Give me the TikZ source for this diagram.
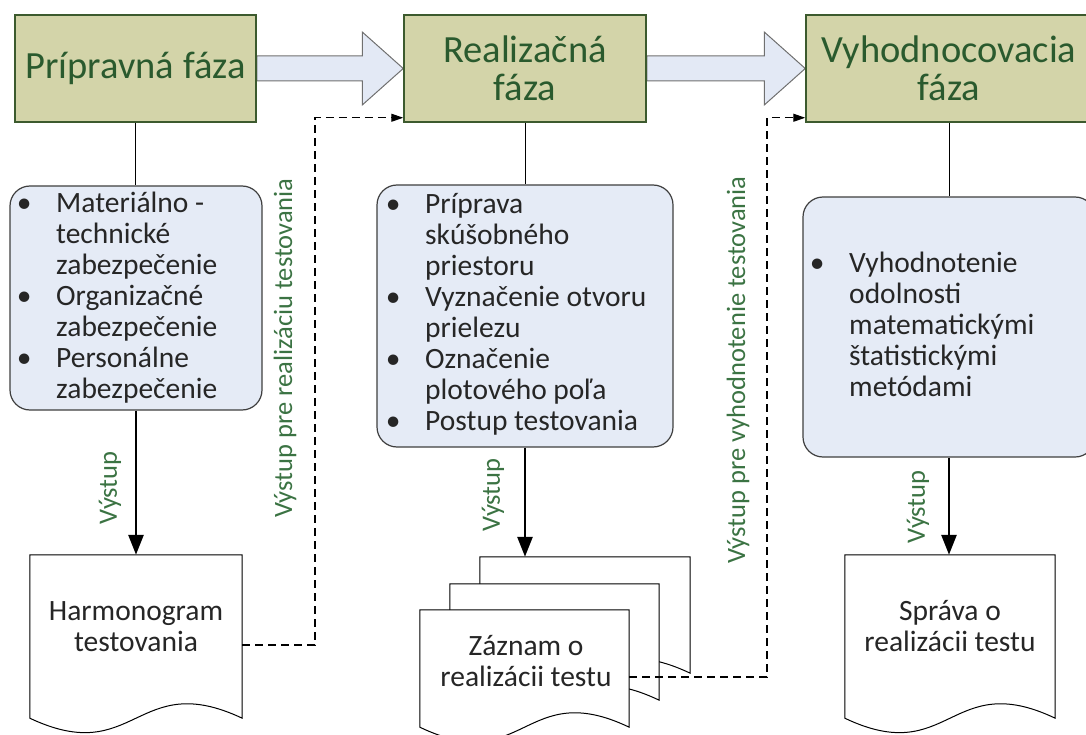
\documentclass[tikz,border=0pt]{standalone}
\usepackage{fontspec}
\setmainfont{Carlito}
\usetikzlibrary{arrows.meta,calc,backgrounds}
\definecolor{phasefill}{HTML}{D3D4A9}
\definecolor{phasedraw}{HTML}{3C5A2E}
\definecolor{phasetext}{HTML}{2A5A2E}
\definecolor{lblcol}{HTML}{3B7343}
\definecolor{bulfill}{HTML}{E5EBF6}
\definecolor{buldraw}{HTML}{3F3F3F}
\definecolor{arrowfill}{HTML}{E3E9F5}
\definecolor{arrowdraw}{HTML}{707070}
\definecolor{txtcol}{HTML}{262626}
\newcommand\lstr{\rule[-8pt]{0pt}{31pt}}
\newcommand\bl[1]{\makebox[0pt]{\textbullet}\hspace*{32pt}#1\lstr}
\newcommand\cl[1]{\hspace*{32pt}#1\lstr}
\begin{document}
\begin{tikzpicture}[x=1pt,y=-1pt,
 phase/.style={draw=phasedraw, line width=1.5pt, fill=phasefill, text=phasetext, font=\fontsize{38.5}{38}\selectfont, align=center, inner sep=0pt},
 bulbox/.style={draw=buldraw, line width=1.2pt, fill=bulfill, rounded corners=20pt, inner sep=0pt},
 bultext/.style={anchor=north west, align=left, inner sep=0pt, text=txtcol, font=\fontsize{29.5}{31}\selectfont},
 docarea/.style={inner sep=0pt},
 docshape/.style={draw=black, line width=1pt, fill=white},
 doctext/.style={align=center, inner sep=0pt, text=txtcol, font=\fontsize{29.5}{31}\selectfont},
 outlbl/.style={rotate=90, text=lblcol, font=\fontsize{26.5}{30}\selectfont, inner sep=0pt},
 link/.style={draw=black, line width=1pt},
 outarrow/.style={draw=black, line width=2.8pt, -{Triangle[length=20pt,width=15pt]}},
 dashconn/.style={draw=black, line width=1.2pt, dash pattern=on 8pt off 5pt, -{Triangle[length=12pt,width=8pt]}},
 barrow/.style={draw=arrowdraw, line width=1pt, fill=arrowfill}
]
\useasboundingbox (0,0) rectangle (1086,735);

% phase boxes
\node[phase, minimum width=241pt, minimum height=107pt] (p1) at (135.5,68.5) {Prípravná fáza};
\node[phase, minimum width=242pt, minimum height=107pt] (p2) at (525,68.5) {Realizačná\\fáza};
\node[phase, minimum width=286pt, minimum height=107pt] (p3) at (949,68.5) {Vyhodnocovacia\\fáza};

% block arrows
\begin{scope}[on background layer]
\draw[barrow] ([yshift=12.5pt]p1.east) -- ([xshift=-41pt,yshift=12.5pt]p2.west) -- ([xshift=-41pt,yshift=36.5pt]p2.west) -- (p2.west) -- ([xshift=-41pt,yshift=-36.5pt]p2.west) -- ([xshift=-41pt,yshift=-12.5pt]p2.west) -- ([yshift=-12.5pt]p1.east) -- cycle;
\draw[barrow] ([yshift=12.5pt]p2.east) -- ([xshift=-41pt,yshift=12.5pt]p3.west) -- ([xshift=-41pt,yshift=36.5pt]p3.west) -- (p3.west) -- ([xshift=-41pt,yshift=-36.5pt]p3.west) -- ([xshift=-41pt,yshift=-12.5pt]p3.west) -- ([yshift=-12.5pt]p2.east) -- cycle;
\end{scope}

% bullet boxes
\node[bulbox, minimum width=252pt, minimum height=224pt] (ba) at (136,298) {};
\node[bultext] (ta) at (24,189) {\bl{Materiálno -}\\\cl{technické}\\\cl{zabezpečenie}\\\bl{Organizačné}\\\cl{zabezpečenie}\\\bl{Personálne}\\\cl{zabezpečenie}};
\node[bulbox, minimum width=296pt, minimum height=262pt] (bb) at (525,316) {};
\node[bultext] (tb) at (393,190) {\bl{Príprava}\\\cl{skúšobného}\\\cl{priestoru}\\\bl{Vyznačenie otvoru}\\\cl{prielezu}\\\bl{Označenie}\\\cl{plotového poľa}\\\bl{Postup testovania}};
\node[bulbox, minimum width=292pt, minimum height=260pt] (bc) at (949,327) {};
\node[bultext] (tc) at (817,249) {\bl{Vyhodnotenie}\\\cl{odolnosti}\\\cl{matematickými}\\\cl{štatistickými}\\\cl{metódami}};

% links phase -> bullet box
\draw[link] (p1.south) -- (p1.south |- ba.north);
\draw[link] (p2.south) -- (p2.south |- bb.north);
\draw[link] (p3.south) -- (p3.south |- bc.north);

% documents
\node[docarea, minimum width=212pt, minimum height=163pt] (d1) at (136,636.5) {};
\draw[docshape] (d1.north west) -- (d1.north east) -- (d1.south east) .. controls ($(d1.south)+(0,-50)$) and ($(d1.south)+(0,50)$) .. (d1.south west) -- cycle;
\node[doctext] (t1) at (136,628) {Harmonogram\lstr\\testovania\lstr};

\node[docarea, minimum width=210pt, minimum height=116pt] (db) at (585,615) {};
\draw[docshape] (db.north west) -- (db.north east) -- (db.south east) .. controls ($(db.south)+(0,-50)$) and ($(db.south)+(0,50)$) .. (db.south west) -- cycle;
\node[docarea, minimum width=209pt, minimum height=116pt] (dm) at (554.5,642) {};
\draw[docshape] (dm.north west) -- (dm.north east) -- (dm.south east) .. controls ($(dm.south)+(0,-50)$) and ($(dm.south)+(0,50)$) .. (dm.south west) -- cycle;
\node[docarea, minimum width=209pt, minimum height=117pt] (df) at (524.5,668.5) {};
\draw[docshape] (df.north west) -- (df.north east) -- (df.south east) .. controls ($(df.south)+(0,-50)$) and ($(df.south)+(0,50)$) .. (df.south west) -- cycle;
\node[doctext] (t2) at (526,663) {Záznam o\lstr\\realizácii testu\lstr};

\node[docarea, minimum width=210pt, minimum height=163pt] (d3) at (950,636.5) {};
\draw[docshape] (d3.north west) -- (d3.north east) -- (d3.south east) .. controls ($(d3.south)+(0,-50)$) and ($(d3.south)+(0,50)$) .. (d3.south west) -- cycle;
\node[doctext] (t3) at (950,628) {Správa o\lstr\\realizácii testu\lstr};

% output arrows
\draw[outarrow] (ba.south) -- (d1.north);
\draw[outarrow] (bb.south) -- (bb.south |- db.north);
\draw[outarrow] (bc.south) -- (bc.south |- d3.north);

% labels
\node[outlbl] (l1) at (110,488) {Výstup};
\node[outlbl] (l2) at (493,495) {Výstup};
\node[outlbl] (l3) at (918,507) {Výstup};
\node[outlbl] (l4) at (285,348) {Výstup pre realizáciu testovania};
\node[outlbl] (l5) at (738,370) {Výstup pre vyhodnotenie testovania};

% dashed connectors
\coordinate (k1) at (315,645);
\draw[dashconn] ([yshift=-8.5pt]d1.east) -- (k1) |- ([yshift=5pt]p2.south west);
\coordinate (k2) at (767,677);
\draw[dashconn] ([yshift=-8.5pt]df.east) -- (k2) |- ([yshift=5pt]p3.south west);
\end{tikzpicture}
\end{document}
